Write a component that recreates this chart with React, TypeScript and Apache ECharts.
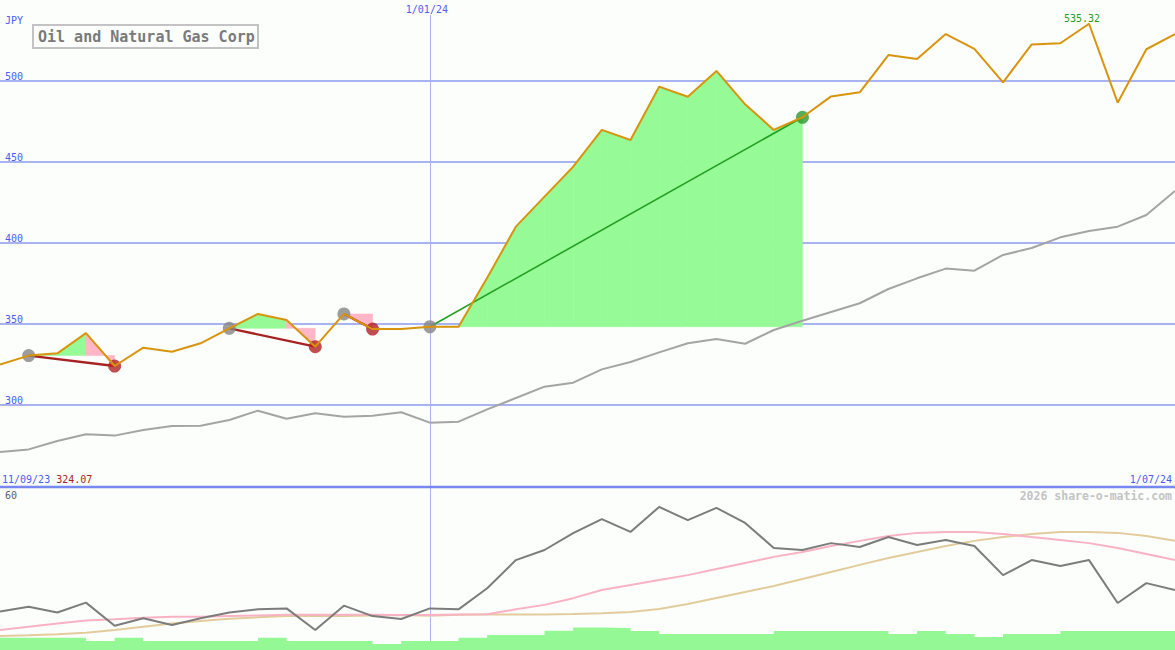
import React, { useEffect, useRef } from 'react';
import * as echarts from 'echarts';

const title = 'Oil and Natural Gas Corp';
const currency = 'JPY';
const watermark = '2026 share-o-matic.com';
const startDate = '11/09/23';
const endDate = '1/07/24';
const markDate = '1/01/24';
const markIndex = 15;

const prices = [
  325.0, 330.5, 331.9, 344.4, 324.07, 335.4, 332.9, 338.1, 347.3, 356.2,
  352.5, 336.0, 356.2, 346.9, 346.9, 348.3, 348.3, 378.5, 410.1, 428.6,
  447.1, 469.8, 463.6, 496.5, 490.3, 506.2, 485.6, 469.8, 477.6, 490.5,
  493.0, 516.0, 513.6, 529.0, 519.8, 499.2, 522.6, 523.3, 535.32, 486.6,
  519.6, 529.0,
];
const priceAverage = [
  271.0, 272.6, 277.8, 281.9, 281.1, 284.6, 287.0, 287.2, 290.7, 296.5,
  291.5, 294.9, 292.8, 293.4, 295.5, 289.1, 289.7, 297.3, 304.3, 311.3,
  313.8, 322.0, 326.5, 332.5, 338.1, 340.7, 337.8, 346.3, 352.0, 357.4,
  362.8, 371.6, 378.2, 384.2, 382.9, 392.6, 396.9, 403.5, 407.4, 410.1,
  417.3, 432.1,
];
const oscillator = [
  22.0, 23.5, 21.7, 24.8, 17.6, 19.9, 17.8, 19.9, 21.7, 22.7,
  23.0, 16.25, 23.85, 20.6, 19.7, 23.0, 22.7, 29.3, 38.1, 41.25,
  46.5, 50.9, 46.9, 54.7, 50.6, 54.4, 49.7, 41.9, 41.25, 43.4,
  42.2, 45.3, 42.8, 44.4, 42.5, 33.4, 38.1, 36.25, 38.1, 24.7,
  30.9, 28.75,
];
const oscillatorFast = [
  16.25, 17.3, 18.3, 19.2, 19.6, 20.1, 20.4, 20.4, 20.6, 20.8,
  21.0, 21.0, 21.0, 21.0, 20.9, 20.9, 21.1, 21.2, 22.7, 24.1,
  26.2, 28.75, 30.3, 31.9, 33.4, 35.3, 37.2, 39.1, 40.6, 42.5,
  44.1, 45.6, 46.6, 46.9, 46.9, 46.25, 45.3, 44.4, 43.4, 41.9,
  40.0, 38.1,
];
const oscillatorSlow = [
  14.4, 14.6, 14.9, 15.4, 16.25, 17.3, 18.3, 19.1, 19.8, 20.2,
  20.6, 20.6, 20.6, 20.8, 20.9, 20.7, 21.0, 21.1, 21.1, 21.1,
  21.25, 21.5, 21.9, 22.8, 24.4, 26.25, 28.1, 30.0, 32.2, 34.4,
  36.6, 38.75, 40.6, 42.5, 44.1, 45.3, 46.25, 46.9, 46.9, 46.6,
  45.6, 44.1,
];
const volumeSteps = [
  13.85, 13.85, 13.85, 12.8, 13.85, 12.8, 12.8, 12.8, 12.8, 13.85,
  12.8, 12.8, 12.8, 11.9, 12.8, 12.8, 13.85, 14.7, 14.7, 16.0,
  17.0, 16.9, 15.9, 15.0, 15.0, 15.0, 15.0, 15.9, 15.9, 15.9,
  15.9, 15.0, 15.9, 15.0, 14.1, 15.0, 15.0, 15.9, 15.9, 15.9,
  15.9, 15.9,
];
const priceTicks = [300, 350, 400, 450, 500];
const panelTicks = [10, 60];
// [entry index, exit index]
const trades = [
  [1, 4],
  [8, 11],
  [12, 13],
  [15, 28],
];

const categories = prices.map((_, i) => String(i));

const FONT = 'DejaVu Sans Mono';
const BLUE = '#4b5cf2';
const GRID_BLUE = '#a8b4f2';
const WIN_FILL = '#96fa96';
const LOSS_FILL = '#ffb6c6';
const WIN = '#22a022';
const LOSS = '#a82222';

export default function App() {
  const ref = useRef<HTMLDivElement>(null);

  useEffect(() => {
    if (!ref.current) return;
    const chart = echarts.init(ref.current, null, { renderer: 'svg' });

    const segments: number[][] = [];
    trades.forEach(([a, b]) => {
      const entry = prices[a];
      for (let i = a; i < b; i++) {
        segments.push([i, entry, prices[i], prices[i + 1], prices[i + 1] >= entry ? 1 : 0]);
      }
    });

    const maxVal = Math.max(...prices);
    const maxIdx = prices.indexOf(maxVal);
    const minVal = Math.min(...prices);

    const tradeLines = trades.map(([a, b]) => ({
      type: 'line',
      xAxisIndex: 0,
      yAxisIndex: 0,
      data: [
        [a, prices[a]],
        [b, prices[b]],
      ],
      symbol: 'none',
      silent: true,
      z: 4,
      lineStyle: { color: prices[b] > prices[a] ? WIN : LOSS, width: prices[b] > prices[a] ? 1.6 : 2.4 },
    }));

    const option: any = {
      animation: false,
      backgroundColor: '#fcfefc',
      textStyle: { fontFamily: FONT },
      grid: [
        { left: 0, right: 0, top: 0, height: 486, outerBoundsMode: 'none', containLabel: false },
        { left: 0, right: 0, top: 490, height: 160, outerBoundsMode: 'none', containLabel: false },
      ],
      xAxis: [
        { type: 'category', gridIndex: 0, data: categories, boundaryGap: false, show: false },
        { type: 'category', gridIndex: 1, data: categories, boundaryGap: false, show: false },
      ],
      yAxis: [
        {
          type: 'value',
          gridIndex: 0,
          min: 250,
          max: 550,
          interval: 50,
          axisLine: { show: false },
          axisTick: { show: false },
          splitLine: {
            show: true,
            showMinLine: false,
            showMaxLine: false,
            lineStyle: { color: GRID_BLUE, width: 2 },
          },
          axisLabel: {
            inside: true,
            margin: 5,
            showMinLabel: false,
            showMaxLabel: false,
            color: BLUE,
            fontFamily: FONT,
            fontSize: 10,
            verticalAlign: 'bottom',
            formatter: (v: number) => (priceTicks.includes(v) ? String(v) : ''),
          },
        },
        {
          type: 'value',
          gridIndex: 1,
          min: panelTicks[0],
          max: panelTicks[1],
          interval: panelTicks[1] - panelTicks[0],
          axisLine: { show: false },
          axisTick: { show: false },
          splitLine: { show: false },
          axisLabel: {
            inside: true,
            margin: 5,
            color: '#606060',
            fontFamily: FONT,
            fontSize: 10,
            verticalAlignMinLabel: 'bottom',
            verticalAlignMaxLabel: 'top',
            formatter: (v: number) => (panelTicks.includes(v) ? String(v) : ''),
          },
        },
      ],
      series: [
        {
          type: 'custom',
          xAxisIndex: 0,
          yAxisIndex: 0,
          data: segments,
          encode: { x: 0, y: 1 },
          silent: true,
          z: 1,
          renderItem: (params: any, api: any) => {
            const i = api.value(0);
            const e = api.value(1);
            const p0 = api.value(2);
            const p1 = api.value(3);
            const up = api.value(4);
            const pts = [
              api.coord([i, e]),
              api.coord([i, p0]),
              api.coord([i + 1, p1]),
              api.coord([i + 1, e]),
            ];
            return {
              type: 'polygon',
              shape: { points: pts },
              style: { fill: up ? WIN_FILL : LOSS_FILL, stroke: up ? WIN_FILL : LOSS_FILL, lineWidth: 0.5 },
            };
          },
        },
        {
          type: 'line',
          xAxisIndex: 0,
          yAxisIndex: 0,
          data: priceAverage,
          symbol: 'none',
          silent: true,
          z: 2,
          lineStyle: { color: '#a4a4a4', width: 2 },
        },
        ...tradeLines,
        {
          type: 'scatter',
          xAxisIndex: 0,
          yAxisIndex: 0,
          data: trades.map(([a]) => [a, prices[a]]),
          symbolSize: 13,
          silent: true,
          z: 5,
          itemStyle: { color: '#858585' },
        },
        {
          type: 'scatter',
          xAxisIndex: 0,
          yAxisIndex: 0,
          data: trades.map(([a, b]) => ({
            value: [b, prices[b]],
            itemStyle: { color: prices[b] > prices[a] ? '#2a9a2a' : '#b02222' },
          })),
          symbolSize: 13,
          silent: true,
          z: 5,
        },
        {
          type: 'line',
          xAxisIndex: 0,
          yAxisIndex: 0,
          data: prices,
          symbol: 'none',
          silent: true,
          z: 6,
          lineStyle: { color: '#d8940c', width: 2 },
          markPoint: {
            silent: true,
            symbol: 'circle',
            symbolSize: 1,
            itemStyle: { color: 'rgba(0,0,0,0)' },
            data: [
              {
                coord: [maxIdx, maxVal],
                value: maxVal,
                label: {
                  show: true,
                  position: 'top',
                  distance: 0,
                  offset: [-7, 0],
                  color: WIN,
                  fontFamily: FONT,
                  fontSize: 10,
                  formatter: () => maxVal.toFixed(2),
                },
              },
            ],
          },
        },
        {
          type: 'line',
          xAxisIndex: 1,
          yAxisIndex: 1,
          data: volumeSteps,
          step: 'end',
          symbol: 'none',
          silent: true,
          z: 1,
          lineStyle: { width: 0, color: '#94f894' },
          areaStyle: { color: '#94f894', opacity: 1 },
        },
        {
          type: 'line',
          xAxisIndex: 1,
          yAxisIndex: 1,
          data: oscillatorSlow,
          symbol: 'none',
          silent: true,
          z: 2,
          lineStyle: { color: '#e2cc9c', width: 2 },
        },
        {
          type: 'line',
          xAxisIndex: 1,
          yAxisIndex: 1,
          data: oscillatorFast,
          symbol: 'none',
          silent: true,
          z: 3,
          lineStyle: { color: '#f8b2c4', width: 2 },
        },
        {
          type: 'line',
          xAxisIndex: 1,
          yAxisIndex: 1,
          data: oscillator,
          symbol: 'none',
          silent: true,
          z: 4,
          lineStyle: { color: '#7c7c7c', width: 2 },
        },
      ],
    };

    chart.setOption(option);

    const markX = chart.convertToPixel({ gridIndex: 0 }, [markIndex, 300])[0];
    const sepY = chart.convertToPixel({ gridIndex: 0 }, [0, 250])[1] + 1;

    chart.setOption({
      graphic: [
        {
          type: 'line',
          shape: { x1: Math.round(markX) + 0.5, y1: 15, x2: Math.round(markX) + 0.5, y2: 642 },
          style: { stroke: GRID_BLUE, lineWidth: 1 },
          z: 0,
          silent: true,
        },
        {
          type: 'line',
          shape: { x1: 0, y1: sepY, x2: 1175, y2: sepY },
          style: { stroke: '#7888f2', lineWidth: 2.5 },
          z: 10,
          silent: true,
        },
        {
          type: 'text',
          x: markX - 3,
          y: 9,
          style: { text: markDate, fill: BLUE, font: `10px "${FONT}"`, align: 'center', verticalAlign: 'middle' },
          silent: true,
        },
        {
          type: 'text',
          x: 5,
          y: 20,
          style: { text: currency, fill: BLUE, font: `10px "${FONT}"`, align: 'left', verticalAlign: 'middle' },
          silent: true,
        },
        {
          type: 'rect',
          shape: { x: 33, y: 25, width: 225, height: 23 },
          style: { fill: '#fcfefc', stroke: '#c4c2c4', lineWidth: 2 },
          z: 20,
          silent: true,
        },
        {
          type: 'text',
          x: 38,
          y: 37,
          style: {
            text: title,
            fill: '#7a7a7a',
            font: `bold 15px "${FONT}"`,
            align: 'left',
            verticalAlign: 'middle',
          },
          z: 21,
          silent: true,
        },
        {
          type: 'text',
          x: 2,
          y: 479,
          style: {
            text: `{d|${startDate}} {p|${minVal.toFixed(2)}}`,
            font: `10px "${FONT}"`,
            align: 'left',
            verticalAlign: 'middle',
            rich: {
              d: { fill: BLUE, font: `10px "${FONT}"` },
              p: { fill: LOSS, font: `10px "${FONT}"` },
            },
          },
          z: 21,
          silent: true,
        },
        {
          type: 'text',
          x: 1172,
          y: 479,
          style: { text: endDate, fill: BLUE, font: `10px "${FONT}"`, align: 'right', verticalAlign: 'middle' },
          z: 21,
          silent: true,
        },
        {
          type: 'text',
          x: 1172,
          y: 496,
          style: {
            text: watermark,
            fill: '#c4c4c4',
            font: `bold 11.5px "${FONT}"`,
            align: 'right',
            verticalAlign: 'middle',
          },
          z: 21,
          silent: true,
        },
      ],
    });

    return () => chart.dispose();
  }, []);

  return (
    <div
      ref={ref}
      style={{ position: 'fixed', left: 0, top: 0, width: 1175, height: 650, background: '#fcfefc' }}
    />
  );
}
